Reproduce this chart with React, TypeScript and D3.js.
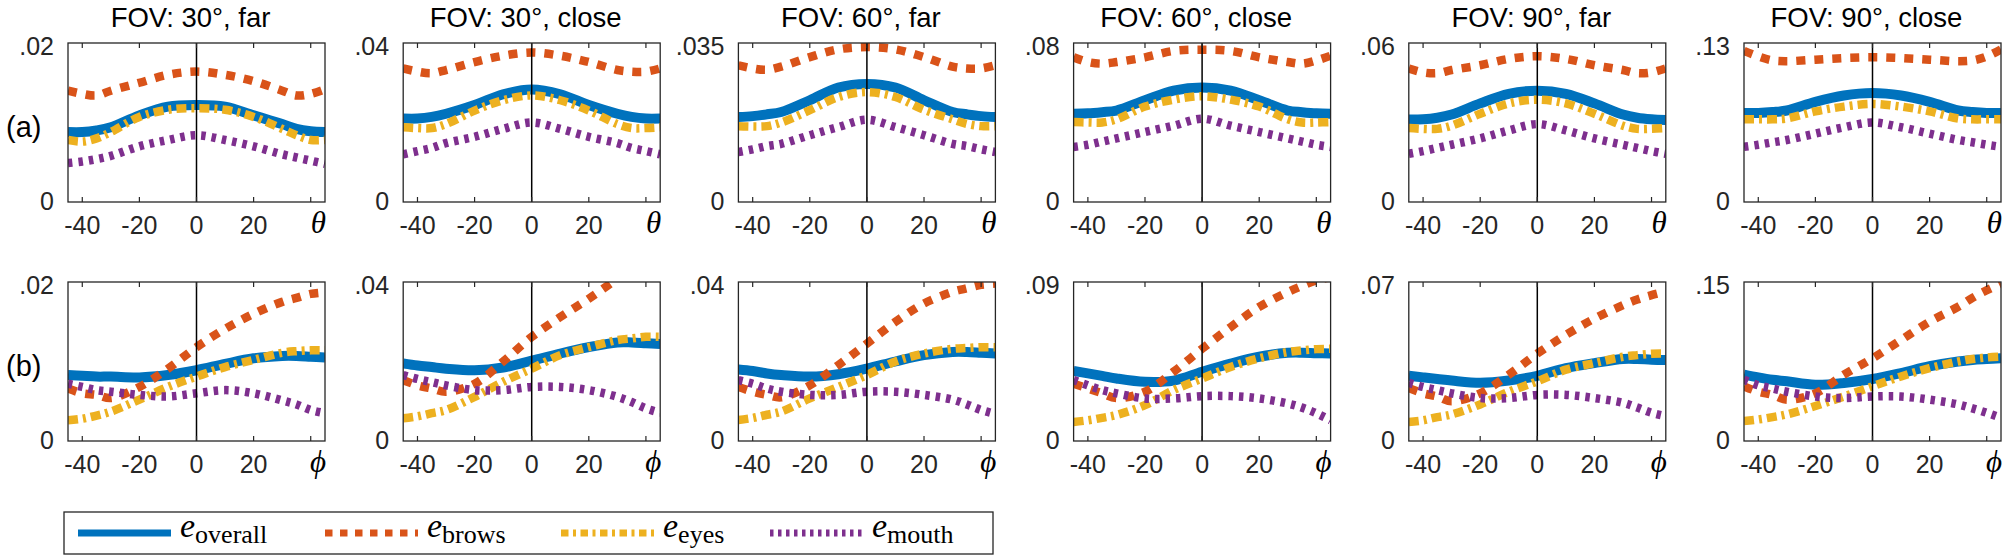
import React from "react";
import * as d3 from "d3";

const X = [-45, -40, -35, -30, -20, -10, 0, 10, 20, 30, 35, 40, 45];
const X_TICKS = [-40, -20, 0, 20, 40];
const X_TICK_LABELS = ["-40", "-20", "0", "20", ""];

const TITLES = ["FOV: 30°, far", "FOV: 30°, close", "FOV: 60°, far", "FOV: 60°, close", "FOV: 90°, far", "FOV: 90°, close"];
const ROW_LABELS = ["(a)", "(b)"];
const AXIS_VARS = ["θ", "ϕ"];

const THETA_YMAX = [0.02, 0.04, 0.035, 0.08, 0.06, 0.13];
const THETA_YLABELS = [".02", ".04", ".035", ".08", ".06", ".13"];
const PHI_YMAX = [0.02, 0.04, 0.04, 0.09, 0.07, 0.15];
const PHI_YLABELS = [".02", ".04", ".04", ".09", ".07", ".15"];

const thetaOverall = [
  [.0088, .0088, .0090, .0094, .0109, .0120, .0122, .0120, .0109, .0098, .0092, .0089, .0088],
  [.0210, .0210, .0214, .0222, .0244, .0271, .0283, .0271, .0244, .0222, .0214, .0210, .0210],
  [.0187, .0189, .0193, .0198, .0224, .0252, .0260, .0252, .0224, .0198, .0193, .0189, .0187],
  [.0444, .0446, .0452, .0460, .0512, .0560, .0576, .0560, .0512, .0460, .0452, .0446, .0444],
  [.0311, .0312, .0318, .0330, .0372, .0408, .0420, .0408, .0372, .0330, .0318, .0312, .0309],
  [.0728, .0728, .0735, .0748, .0819, .0871, .0891, .0871, .0819, .0748, .0735, .0728, .0728],
];
const thetaBrows = [
  [.0140, .0136, .0134, .0140, .0150, .0160, .0164, .0160, .0152, .0140, .0134, .0136, .0142],
  [.0336, .0328, .0324, .0332, .0352, .0368, .0376, .0368, .0352, .0332, .0328, .0328, .0336],
  [.0301, .0294, .0291, .0298, .0319, .0336, .0341, .0336, .0319, .0298, .0294, .0294, .0301],
  [.0728, .0704, .0696, .0704, .0728, .0760, .0766, .0760, .0728, .0704, .0696, .0712, .0736],
  [.0504, .0489, .0486, .0498, .0516, .0540, .0550, .0540, .0516, .0498, .0486, .0489, .0504],
  [.1235, .1190, .1157, .1151, .1164, .1177, .1183, .1177, .1164, .1151, .1157, .1190, .1248],
];
const thetaEyes = [
  [.0078, .0076, .0080, .0088, .0107, .0116, .0118, .0116, .0107, .0092, .0084, .0078, .0078],
  [.0188, .0186, .0186, .0196, .0230, .0256, .0268, .0256, .0230, .0196, .0186, .0186, .0188],
  [.0167, .0166, .0167, .0175, .0202, .0231, .0242, .0231, .0203, .0182, .0172, .0167, .0167],
  [.0402, .0400, .0400, .0416, .0480, .0515, .0532, .0515, .0480, .0416, .0400, .0400, .0402],
  [.0279, .0276, .0276, .0288, .0333, .0372, .0386, .0372, .0333, .0288, .0276, .0276, .0279],
  [.0676, .0676, .0676, .0683, .0741, .0780, .0802, .0780, .0741, .0683, .0676, .0676, .0676],
];
const thetaMouth = [
  [.0049, .0051, .0054, .0058, .0070, .0078, .0084, .0078, .0070, .0060, .0056, .0052, .0048],
  [.0120, .0128, .0136, .0148, .0164, .0184, .0200, .0184, .0164, .0148, .0136, .0128, .0120],
  [.0110, .0116, .0123, .0128, .0147, .0165, .0181, .0165, .0147, .0128, .0123, .0116, .0110],
  [.0277, .0288, .0304, .0320, .0352, .0384, .0419, .0384, .0352, .0320, .0304, .0288, .0277],
  [.0182, .0192, .0204, .0216, .0240, .0270, .0294, .0270, .0240, .0216, .0204, .0192, .0182],
  [.0451, .0468, .0488, .0507, .0559, .0611, .0650, .0611, .0559, .0507, .0488, .0468, .0451],
];

const phiOverall = [
  [.0083, .0082, .0081, .0081, .0080, .0083, .0089, .0097, .0104, .0107, .0107, .0106, .0105],
  [.0195, .0190, .0186, .0182, .0178, .0185, .0202, .0220, .0236, .0248, .0248, .0246, .0244],
  [.0180, .0176, .0170, .0166, .0162, .0168, .0182, .0200, .0216, .0224, .0224, .0222, .0220],
  [.0396, .0383, .0369, .0354, .0335, .0342, .0392, .0438, .0477, .0499, .0500, .0497, .0495],
  [.0287, .0280, .0273, .0266, .0256, .0266, .0287, .0321, .0343, .0361, .0361, .0358, .0357],
  [.0626, .0600, .0578, .0563, .0531, .0548, .0585, .0641, .0705, .0750, .0765, .0773, .0780],
];
const phiBrows = [
  [.0066, .0060, .0058, .0054, .0068, .0091, .0118, .0141, .0160, .0175, .0180, .0185, .0187],
  [.0153, .0140, .0132, .0124, .0144, .0200, .0262, .0312, .0358, .0408, .0432, .0452, .0464],
  [.0136, .0124, .0116, .0110, .0140, .0191, .0245, .0300, .0346, .0375, .0384, .0393, .0396],
  [.0324, .0297, .0270, .0243, .0279, .0392, .0522, .0645, .0759, .0843, .0878, .0909, .0927],
  [.0233, .0210, .0196, .0175, .0210, .0292, .0385, .0467, .0539, .0598, .0623, .0642, .0658],
  [.0516, .0465, .0435, .0390, .0450, .0626, .0780, .0953, .1125, .1266, .1350, .1422, .1485],
];
const phiEyes = [
  [.0026, .0028, .0032, .0037, .0052, .0068, .0081, .0093, .0102, .0111, .0113, .0114, .0114],
  [.0057, .0062, .0070, .0078, .0111, .0149, .0182, .0216, .0236, .0254, .0258, .0262, .0262],
  [.0053, .0058, .0066, .0074, .0107, .0136, .0166, .0200, .0220, .0232, .0234, .0236, .0236],
  [.0108, .0117, .0131, .0147, .0203, .0288, .0354, .0419, .0468, .0504, .0513, .0520, .0522],
  [.0084, .0091, .0105, .0117, .0161, .0217, .0263, .0314, .0343, .0371, .0378, .0384, .0385],
  [.0188, .0203, .0225, .0251, .0330, .0420, .0516, .0609, .0687, .0750, .0773, .0788, .0795],
];
const phiMouth = [
  [.0072, .0068, .0064, .0062, .0058, .0056, .0060, .0064, .0060, .0051, .0046, .0039, .0035],
  [.0166, .0156, .0148, .0140, .0128, .0128, .0136, .0136, .0128, .0111, .0098, .0082, .0071],
  [.0153, .0144, .0132, .0124, .0116, .0116, .0124, .0124, .0116, .0104, .0092, .0078, .0068],
  [.0345, .0315, .0288, .0270, .0241, .0241, .0254, .0254, .0241, .0212, .0189, .0157, .0117],
  [.0256, .0238, .0224, .0210, .0189, .0189, .0203, .0203, .0189, .0168, .0147, .0124, .0109],
  [.0578, .0525, .0495, .0465, .0420, .0405, .0420, .0420, .0390, .0345, .0308, .0266, .0219],
];

const SERIES_NAMES = ["overall", "brows", "eyes", "mouth"];
const COLORS = ["#0072BD", "#D95319", "#EDB120", "#7E2F8E"];
const WIDTHS = [10, 8.5, 8.5, 8.5];
const DASHES = [null, "9 9", "10 5 3 5", "4.5 6"];
const LEGEND_DASHES = [null, "7.5 7.5", "7.5 4.5 3 4.5", "3.5 4.5"];

const SANS = "'Liberation Sans', Arial, Helvetica, sans-serif";
const SERIF = "'Liberation Serif', 'Times New Roman', serif";

const PANEL_LEFT0 = 68;
const PANEL_STEP = 335.2;
const PANEL_W = 257;
const PANEL_H = 159;
const ROW_TOP = [43, 282];
const AXIS_COLOR = "#262626";

function Panel({ row, idx }: { row: number; idx: number }) {
  const left = PANEL_LEFT0 + idx * PANEL_STEP;
  const top = ROW_TOP[row];
  const ymax = row === 0 ? THETA_YMAX[idx] : PHI_YMAX[idx];
  const ylabel = row === 0 ? THETA_YLABELS[idx] : PHI_YLABELS[idx];
  const x = d3.scaleLinear().domain([-45, 45]).range([left, left + PANEL_W]);
  const y = d3.scaleLinear().domain([0, ymax]).range([top + PANEL_H, top]);
  const data = row === 0
    ? [thetaOverall[idx], thetaBrows[idx], thetaEyes[idx], thetaMouth[idx]]
    : [phiOverall[idx], phiBrows[idx], phiEyes[idx], phiMouth[idx]];
  const line = d3.line<number>()
    .x((_, i) => x(X[i]))
    .y((d) => y(d))
    .curve(d3.curveCatmullRom.alpha(0.5));
  const clipId = `clip-${row}-${idx}`;
  const bottom = top + PANEL_H;
  return (
    <g>
      <defs>
        <clipPath id={clipId}>
          <rect x={left} y={top} width={PANEL_W} height={PANEL_H} />
        </clipPath>
      </defs>
      <rect x={left} y={top} width={PANEL_W} height={PANEL_H} fill="#fff" />
      <g clipPath={`url(#${clipId})`}>
        {data.map((s, k) => (
          <path
            key={k}
            d={line(s) || ""}
            fill="none"
            stroke={COLORS[k]}
            strokeWidth={WIDTHS[k]}
            strokeDasharray={DASHES[k] || undefined}
            strokeLinecap="butt"
            strokeLinejoin="round"
          />
        ))}
      </g>
      <line x1={x(0)} x2={x(0)} y1={top} y2={bottom} stroke="#000" strokeWidth={1.5} />
      {X_TICKS.map((t) => (
        <g key={t}>
          <line x1={x(t)} x2={x(t)} y1={bottom} y2={bottom - 5} stroke={AXIS_COLOR} strokeWidth={1.2} />
          <line x1={x(t)} x2={x(t)} y1={top} y2={top + 5} stroke={AXIS_COLOR} strokeWidth={1.2} />
        </g>
      ))}
      <rect x={left} y={top} width={PANEL_W} height={PANEL_H} fill="none" stroke={AXIS_COLOR} strokeWidth={1.3} />
      {X_TICKS.map((t, i) => (
        <text key={"l" + t} x={x(t)} y={bottom + 32} textAnchor="middle" fontFamily={SANS} fontSize={25} fill="#262626">
          {X_TICK_LABELS[i]}
        </text>
      ))}
      <text x={left + PANEL_W + 1} y={bottom + 31} textAnchor="end" fontFamily={SERIF} fontStyle="italic" fontSize={31} fill="#000">
        {AXIS_VARS[row]}
      </text>
      <text x={left - 14} y={top + 12} textAnchor="end" fontFamily={SANS} fontSize={25} fill="#262626">{ylabel}</text>
      <text x={left - 14} y={bottom + 8} textAnchor="end" fontFamily={SANS} fontSize={25} fill="#262626">0</text>
      {row === 0 && (
        <text x={left + PANEL_W / 2 - 6} y={27} textAnchor="middle" fontFamily={SANS} fontSize={27.5} fill="#000">
          {TITLES[idx]}
        </text>
      )}
    </g>
  );
}

function Legend() {
  const lx = 64, ly = 512, lw = 929, lh = 42;
  const cy = ly + lh / 2;
  const lineStarts = [78, 325, 561, 770];
  const lineLen = 93;
  return (
    <g>
      <rect x={lx} y={ly} width={lw} height={lh} fill="#fff" stroke={AXIS_COLOR} strokeWidth={1.3} />
      {SERIES_NAMES.map((n, k) => (
        <g key={n}>
          <line
            x1={lineStarts[k]}
            x2={lineStarts[k] + lineLen}
            y1={cy}
            y2={cy}
            stroke={COLORS[k]}
            strokeWidth={7}
            strokeDasharray={LEGEND_DASHES[k] || undefined}
          />
          <text x={lineStarts[k] + lineLen + 9} y={cy + 4} fontFamily={SERIF} fill="#000">
            <tspan fontStyle="italic" fontSize={34}>e</tspan>
            <tspan fontSize={26} dy={6}>{n}</tspan>
          </text>
        </g>
      ))}
    </g>
  );
}

export default function App() {
  return (
    <svg
      width={2010}
      height={560}
      viewBox="0 0 2010 560"
      style={{ position: "absolute", left: 0, top: 0, display: "block", background: "#fff" }}
    >
      <rect x={0} y={0} width={2010} height={560} fill="#fff" />
      {[0, 1].map((r) => (
        <g key={r}>
          {TITLES.map((_, i) => (
            <Panel key={i} row={r} idx={i} />
          ))}
          <text x={6} y={ROW_TOP[r] + PANEL_H / 2 + 14} fontFamily={SANS} fontSize={29} fill="#000">
            {ROW_LABELS[r]}
          </text>
        </g>
      ))}
      <Legend />
    </svg>
  );
}
